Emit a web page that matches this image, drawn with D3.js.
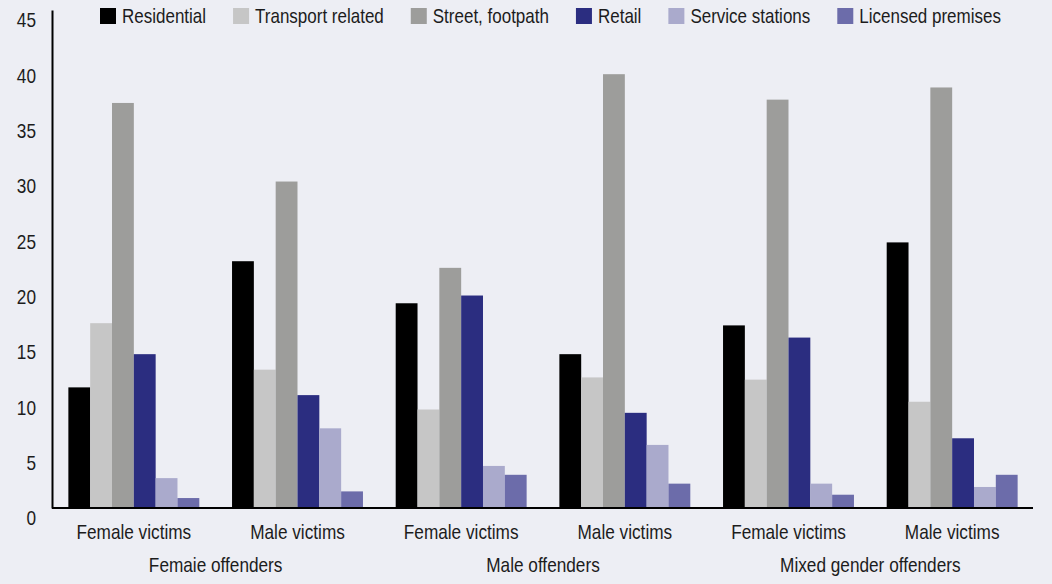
<!DOCTYPE html>
<html>
<head>
<meta charset="utf-8">
<script src="https://cdn.jsdelivr.net/npm/d3@7"></script>
<style>
  html, body { margin: 0; padding: 0; background: #edeef4; }
  svg { display: block; }
  text { font-family: "Liberation Sans", Arial, sans-serif; fill: #1c1c1c; }
</style>
</head>
<body>
<svg id="chart" width="1052" height="584"></svg>
<script>
// Location of incident, by offender and victim gender (%)
const offenderGroups = ["Femaie offenders", "Male offenders", "Mixed gender offenders"];
const victimLabels = ["Female victims", "Male victims"];
const seriesNames = ["Residential", "Transport related", "Street, footpath", "Retail", "Service stations", "Licensed premises"];
const seriesColors = ["#000000", "#c6c6c6", "#9d9d9b", "#2b2d80", "#aaaacc", "#6c6caa"];

// one value per category: FO/FV, FO/MV, MO/FV, MO/MV, Mixed/FV, Mixed/MV
const residential = [10.9, 22.3, 18.5, 13.9, 16.5, 24.0];
const transportRelated = [16.7, 12.5, 8.9, 11.8, 11.6, 9.6];
const streetFootpath = [36.6, 29.5, 21.7, 39.2, 36.9, 38.0];
const retail = [13.9, 10.2, 19.2, 8.6, 15.4, 6.3];
const serviceStations = [2.7, 7.2, 3.8, 5.7, 2.2, 1.9];
const licensedPremises = [0.9, 1.5, 3.0, 2.2, 1.2, 3.0];

const yTicks = [0, 5, 10, 15, 20, 25, 30, 35, 40, 45];

const seriesValues = [residential, transportRelated, streetFootpath, retail, serviceStations, licensedPremises];

// condensed lettering: regular sans squeezed horizontally
const SQUEEZE = 0.82;
const LEGEND_SQUEEZE = 0.85;

// categories: offender group x victim gender
const categories = [];
offenderGroups.forEach((g, gi) => victimLabels.forEach((v, vi) => categories.push({ key: gi + "-" + vi, group: g, label: v })));

const svg = d3.select("#chart");

const x0 = d3.scaleBand()
  .domain(categories.map(d => d.key))
  .range([52, 1034])
  .paddingInner(0.2)
  .paddingOuter(0.1);

const x1 = d3.scaleBand()
  .domain(seriesNames)
  .range([0, x0.bandwidth()]);

const y = d3.scaleLinear().domain([0, 45]).range([508, 10]);

const color = d3.scaleOrdinal().domain(seriesNames).range(seriesColors);

// bars
const groups = svg.append("g")
  .selectAll("g")
  .data(categories)
  .join("g")
  .attr("transform", d => `translate(${x0(d.key)},0)`);

groups.selectAll("rect")
  .data((d, i) => seriesNames.map((s, si) => ({ series: s, value: seriesValues[si][i] })))
  .join("rect")
  .attr("x", d => x1(d.series))
  .attr("width", x1.bandwidth())
  .attr("y", d => y(d.value))
  .attr("height", d => y(0) - y(d.value))
  .attr("fill", d => color(d.series));

// y axis
const yAxis = svg.append("g")
  .attr("transform", "translate(52,0)")
  .call(d3.axisLeft(y).tickValues(yTicks).tickSize(0).tickPadding(16));
yAxis.select(".domain").attr("stroke", "#000").attr("stroke-width", 2);
yAxis.selectAll("text")
  .attr("font-size", 21)
  .attr("x", -16 / SQUEEZE)
  .attr("transform", `scale(${SQUEEZE},1)`)
  .attr("dy", "0.8em")
  .style("fill", "#1c1c1c");

// x baseline
const xAxis = svg.append("g")
  .attr("transform", `translate(0,${y(0)})`)
  .call(d3.axisBottom(x0).tickSize(0).tickFormat(""));
xAxis.select(".domain")
  .attr("d", `M52,0H1033`)
  .attr("stroke", "#000")
  .attr("stroke-width", 2);

function squeezedText(sel, xf, yv) {
  return sel.attr("transform", (d, i) => `translate(${xf(d, i)},${yv}) scale(${SQUEEZE},1)`);
}

// victim labels
svg.append("g")
  .selectAll("text")
  .data(categories)
  .join("text")
  .call(squeezedText, d => x0(d.key) + x0.bandwidth() / 2, 539)
  .attr("text-anchor", "middle")
  .attr("font-size", 21)
  .text(d => d.label);

// offender group labels, centred under each pair
svg.append("g")
  .selectAll("text")
  .data(offenderGroups)
  .join("text")
  .call(squeezedText, (g, gi) => {
    const a = x0(gi + "-0"), b = x0(gi + "-1") + x0.bandwidth();
    return (a + b) / 2;
  }, 572)
  .attr("text-anchor", "middle")
  .attr("font-size", 21)
  .text(d => d);

// legend, laid out left to right
const legend = svg.append("g");
let lx = 100;
seriesNames.forEach(name => {
  const item = legend.append("g").attr("transform", `translate(${lx},0)`);
  item.append("rect").attr("x", 0).attr("y", 8).attr("width", 16).attr("height", 16).attr("fill", color(name));
  const t = item.append("text")
    .attr("transform", `translate(22,23) scale(${LEGEND_SQUEEZE},1)`)
    .attr("font-size", 20)
    .text(name);
  lx += 22 + t.node().getComputedTextLength() * LEGEND_SQUEEZE + 27;
});
</script>
</body>
</html>
